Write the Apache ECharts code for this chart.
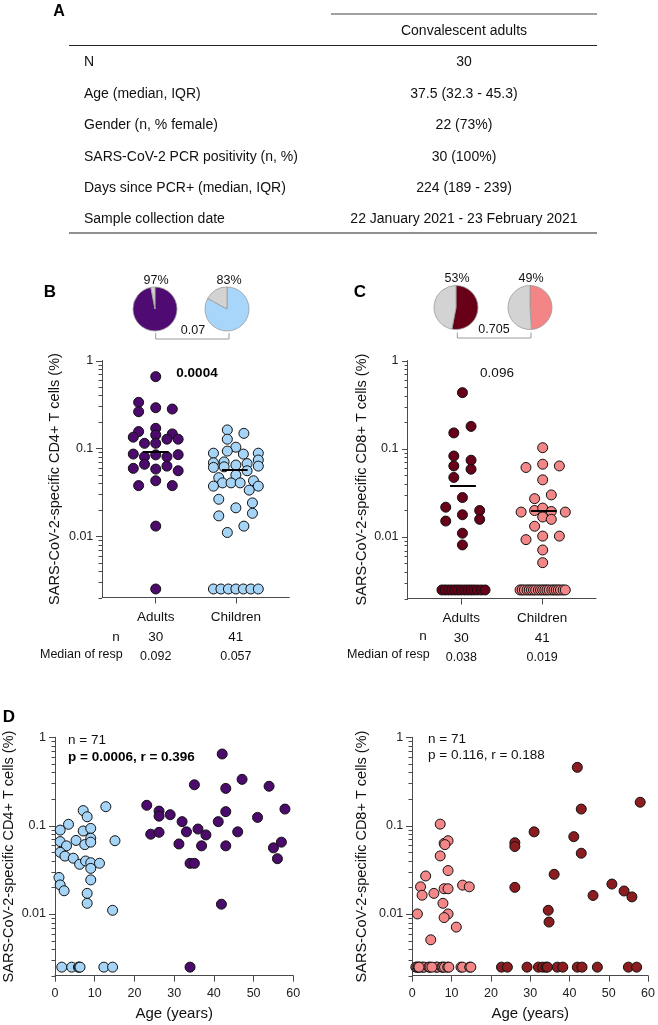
<!DOCTYPE html>
<html>
<head>
<meta charset="utf-8">
<script src="https://cdn.jsdelivr.net/npm/echarts@6/dist/echarts.min.js"></script>
<style>
html, body { margin: 0; padding: 0; background: #fff; }
#chart { width: 658px; height: 1025px; }
</style>
</head>
<body>
<div id="chart"></div>
<script>
const FONT = '"Liberation Sans", Arial, sans-serif';

// ---- panel A table ----
const tableHeader = 'Convalescent adults';
const tableLabels = ['N', 'Age (median, IQR)', 'Gender (n, % female)', 'SARS-CoV-2 PCR positivity (n, %)', 'Days since PCR+ (median, IQR)', 'Sample collection date'];
const tableValues = ['30', '37.5 (32.3 - 45.3)', '22 (73%)', '30 (100%)', '224 (189 - 239)', '22 January 2021 - 23 February 2021'];

// ---- panels B / C ----
const groups = ['Adults', 'Children'];
const groupX = [1, 2.5];
const nCounts = [30, 41];
const cd4Medians = [0.092, 0.057];
const cd8Medians = [0.038, 0.019];
const cd4Responders = [97, 83];
const cd8Responders = [53, 49];
const pieP = ['0.07', '0.705'];
const groupP = ['0.0004', '0.096'];
const lod = 0.003;
const majorTicks = [0.01, 0.1, 1];
const minorTicks = [0.002, 0.003, 0.004, 0.005, 0.006, 0.007, 0.008, 0.009,
  0.02, 0.03, 0.04, 0.05, 0.06, 0.07, 0.08, 0.09,
  0.2, 0.3, 0.4, 0.5, 0.6, 0.7, 0.8, 0.9];

// [x position, value]
const cd4Adults = [[1.0, 0.655], [0.68, 0.334], [0.68, 0.261], [1.0, 0.29], [1.31, 0.28], [1.0, 0.169], [0.68, 0.155],
  [1.0, 0.142], [1.31, 0.146], [0.58, 0.134], [1.21, 0.127], [1.42, 0.127], [0.79, 0.114], [1.0, 0.114],
  [0.58, 0.086], [1.0, 0.0842], [1.42, 0.0847], [0.79, 0.080], [1.21, 0.080], [0.79, 0.0658], [1.21, 0.0627],
  [0.58, 0.0591], [1.0, 0.058], [1.42, 0.0555], [1.0, 0.0427], [0.68, 0.0376], [1.31, 0.0376], [1.0, 0.013],
  [1.0, 0.0025]];
const cd4Children = [[2.34, 0.162], [2.65, 0.148], [2.34, 0.127], [2.50, 0.103], [2.34, 0.093], [2.08, 0.088],
  [2.64, 0.086], [2.92, 0.088], [2.92, 0.0736], [2.08, 0.0684], [2.28, 0.070], [2.50, 0.0645], [2.71, 0.067],
  [2.92, 0.0627], [2.08, 0.0606], [2.28, 0.0615], [2.71, 0.0555], [2.50, 0.0497], [2.18, 0.0463], [2.83, 0.0427],
  [2.25, 0.0404], [2.41, 0.0404], [2.58, 0.0404], [2.08, 0.0371], [2.92, 0.0371], [2.75, 0.0334], [2.18, 0.0263],
  [2.81, 0.0239], [2.50, 0.0210], [2.81, 0.0182], [2.18, 0.0170], [2.65, 0.0130], [2.34, 0.0110],
  [2.08, 0.0025], [2.22, 0.0025], [2.36, 0.0025], [2.50, 0.0025], [2.64, 0.0025], [2.78, 0.0025], [2.92, 0.0025]];
const cd8Adults = [[1.02, 0.432], [0.86, 0.151], [1.18, 0.179], [0.86, 0.0826], [1.18, 0.074], [0.86, 0.0637],
  [1.18, 0.0585], [0.86, 0.0472], [1.02, 0.0279], [0.71, 0.0217], [1.34, 0.0199], [1.02, 0.0178], [0.71, 0.0151],
  [1.34, 0.0158], [1.02, 0.011], [1.02, 0.0081],
  [0.64, 0.0025], [0.70, 0.0025], [0.76, 0.0025], [0.82, 0.0025], [0.88, 0.0025], [0.94, 0.0025], [1.00, 0.0025],
  [1.06, 0.0025], [1.12, 0.0025], [1.18, 0.0025], [1.24, 0.0025], [1.30, 0.0025], [1.37, 0.0025], [1.44, 0.0025]];
const cd8Children = [[2.51, 0.1026], [2.20, 0.0612], [2.51, 0.0667], [2.82, 0.0637], [2.51, 0.0443], [2.67, 0.0299],
  [2.36, 0.0271], [2.11, 0.0191], [2.36, 0.0199], [2.51, 0.0212], [2.67, 0.0194], [2.93, 0.0191], [2.51, 0.0168],
  [2.67, 0.0158], [2.36, 0.0132], [2.20, 0.0093], [2.51, 0.0102], [2.82, 0.0102], [2.51, 0.0071], [2.51, 0.0051],
  [2.09, 0.0025], [2.13, 0.0025], [2.17, 0.0025], [2.22, 0.0025], [2.26, 0.0025], [2.30, 0.0025], [2.34, 0.0025],
  [2.38, 0.0025], [2.43, 0.0025], [2.47, 0.0025], [2.51, 0.0025], [2.55, 0.0025], [2.59, 0.0025], [2.63, 0.0025],
  [2.68, 0.0025], [2.72, 0.0025], [2.76, 0.0025], [2.80, 0.0025], [2.84, 0.0025], [2.89, 0.0025], [2.93, 0.0025]];

// ---- panel D: [age, value] ----
const nTotal = 71;
const corrP = ['0.0006', '0.116'];
const corrR = ['0.396', '0.188'];
const ageCd4Children = [[12.8, 0.164], [7.1, 0.148], [8.1, 0.126], [3.4, 0.1035], [1.3, 0.089], [7.1, 0.087], [9.0, 0.093],
  [9.0, 0.072], [5.3, 0.068], [1.3, 0.066], [15.1, 0.0675], [7.5, 0.061], [9.0, 0.065], [2.9, 0.059], [1.3, 0.0499],
  [2.5, 0.0452], [4.6, 0.0428], [6.2, 0.0365], [7.7, 0.0398], [9.0, 0.038], [9.0, 0.0328], [11.2, 0.0375],
  [1.0, 0.0259], [9.0, 0.0243], [1.3, 0.0213], [2.3, 0.0183], [8.1, 0.0171], [8.1, 0.0132], [14.5, 0.011],
  [1.7, 0.0025], [4.2, 0.0025], [5.9, 0.0025], [6.1, 0.0025], [6.3, 0.0025], [12.3, 0.0025], [14.5, 0.0025]];
const ageCd4Adults = [[42.1, 0.647], [35.1, 0.29], [43.0, 0.264], [47.1, 0.334], [53.9, 0.279], [23.1, 0.17], [26.2, 0.146],
  [26.2, 0.128], [29.0, 0.133], [43.0, 0.144], [57.9, 0.154], [51.0, 0.124], [32.0, 0.111], [41.1, 0.111],
  [24.1, 0.080], [26.2, 0.084], [33.1, 0.085], [36.0, 0.0915], [38.0, 0.0785], [46.0, 0.085], [31.2, 0.062],
  [36.9, 0.059], [43.0, 0.059], [55.0, 0.056], [57.0, 0.065], [56.0, 0.0422], [34.0, 0.0374], [35.1, 0.0374],
  [41.9, 0.0129], [34.0, 0.0025]];
const ageCd8Children = [[7.1, 0.104], [8.1, 0.063], [9.1, 0.0675], [8.3, 0.061], [7.1, 0.0454], [9.1, 0.031], [3.4, 0.0269],
  [12.8, 0.0212], [14.5, 0.0203], [2.1, 0.0203], [8.1, 0.0193], [9.1, 0.0193], [5.5, 0.0171], [2.5, 0.0163],
  [7.8, 0.0132], [1.3, 0.01], [9.1, 0.01], [8.1, 0.0091], [11.2, 0.0071], [4.7, 0.0051],
  [0.9, 0.0025], [1.2, 0.0025], [1.5, 0.0025], [1.9, 0.0025], [2.6, 0.0025], [3.0, 0.0025], [4.2, 0.0025],
  [4.5, 0.0025], [6.1, 0.0025], [6.4, 0.0025], [7.5, 0.0025], [7.8, 0.0025], [8.2, 0.0025], [9.0, 0.0025],
  [9.3, 0.0025], [12.4, 0.0025], [12.8, 0.0025], [14.6, 0.0025], [14.9, 0.0025], [1.7, 0.0025], [5.0, 0.0025]];
const ageCd8Adults = [[42.0, 0.457], [58.0, 0.184], [43.0, 0.154], [31.0, 0.085], [41.1, 0.075], [26.1, 0.064], [26.1, 0.058],
  [43.0, 0.0487], [36.1, 0.0281], [26.1, 0.02], [50.8, 0.0218], [53.9, 0.0182], [55.9, 0.0156], [46.0, 0.0162],
  [34.6, 0.011], [34.8, 0.0081],
  [22.7, 0.0025], [24.2, 0.0025], [29.2, 0.0025], [32.1, 0.0025], [33.2, 0.0025], [34.0, 0.0025], [34.4, 0.0025],
  [36.9, 0.0025], [38.3, 0.0025], [42.0, 0.0025], [43.2, 0.0025], [47.1, 0.0025], [55.0, 0.0025], [57.1, 0.0025]];

const purple = '#4b0a6c', lightBlue = '#a6d4f7', maroon = '#690019', pink = '#f38788', brick = '#8b1c1f';
const grey = '#d3d3d3';
const axisColor = '#4a4a4a';

const chart = echarts.init(document.getElementById('chart'));

// log axis: labels at decades; ticks are added after layout (see below)
function yLog(grid, name, gap) {
  return {
    type: 'log', gridIndex: grid, min: 0.002, max: 1, position: 'left',
    name: name, nameLocation: 'middle', nameGap: gap,
    nameTextStyle: { fontSize: 14.5, color: '#111', fontFamily: FONT },
    axisLine: { show: true, onZero: false, lineStyle: { color: axisColor } },
    axisTick: { show: false },
    axisLabel: { customValues: majorTicks, formatter: v => String(+(+v).toPrecision(4)),
      fontSize: 12.5, color: '#222', margin: 9, fontFamily: FONT },
    splitLine: { show: false }
  };
}

function xGroups(grid, medians) {
  return {
    type: 'value', gridIndex: grid, min: 0, max: 3.5,
    axisLine: { show: true, onZero: false, lineStyle: { color: axisColor } },
    axisTick: { show: true, length: 6, customValues: groupX, lineStyle: { color: axisColor } },
    axisLabel: {
      customValues: groupX, margin: 10, color: '#111', fontFamily: FONT,
      formatter: v => {
        const i = groupX.indexOf(v);
        return '{g|' + groups[i] + '}\n{n|' + nCounts[i] + '}\n{m|' + medians[i] + '}';
      },
      rich: {
        g: { fontSize: 13.5, lineHeight: 20, fontFamily: FONT, color: '#111' },
        n: { fontSize: 13.5, lineHeight: 20, fontFamily: FONT, color: '#111' },
        m: { fontSize: 12.5, lineHeight: 18, fontFamily: FONT, color: '#111' }
      }
    },
    splitLine: { show: false }
  };
}

function xAge(grid) {
  return {
    type: 'value', gridIndex: grid, min: 0, max: 60, interval: 10,
    name: 'Age (years)', nameLocation: 'middle', nameGap: 31,
    nameTextStyle: { fontSize: 15, color: '#111', fontFamily: FONT },
    axisLine: { show: true, onZero: false, lineStyle: { color: axisColor } },
    axisTick: { show: true, length: 6, lineStyle: { color: axisColor } },
    axisLabel: { fontSize: 12.5, color: '#222', margin: 11, fontFamily: FONT },
    splitLine: { show: false }
  };
}

function lodLine() {
  return { silent: true, symbol: 'none', label: { show: false }, emphasis: { disabled: true },
    lineStyle: { color: '#222', type: [4, 3], width: 1 }, data: [{ yAxis: lod }] };
}

function medianLine(gx, med) {
  return { silent: true, symbol: 'none', label: { show: false }, emphasis: { disabled: true },
    lineStyle: { color: '#000', type: 'solid', width: 2 },
    data: [[{ coord: [gx - 0.24, med] }, { coord: [gx + 0.24, med] }]] };
}

function dots(xi, yi, data, color, markLine) {
  const s = {
    type: 'scatter', xAxisIndex: xi, yAxisIndex: yi, data: data, symbolSize: 10, silent: true,
    itemStyle: { color: color, borderColor: '#111', borderWidth: 1, opacity: 1 }
  };
  if (markLine) s.markLine = markLine;
  return s;
}

function pie(cx, cy, pct, color) {
  return {
    type: 'pie', center: [cx, cy], radius: 22, startAngle: 90, clockwise: true, silent: true,
    label: { show: false }, labelLine: { show: false }, emphasis: { disabled: true },
    itemStyle: { borderColor: '#9a9a9a', borderWidth: 0.8 },
    data: [{ value: pct, itemStyle: { color: color } }, { value: 100 - pct, itemStyle: { color: grey } }]
  };
}

function txt(x, y, s, o) {
  o = o || {};
  const al = o.align || 'center';
  return { type: 'text', x: x, y: y, silent: true, z: 10,
    style: { text: s, fontSize: o.size || 13, fontWeight: o.bold ? 'bold' : 'normal', fontFamily: FONT,
      fill: o.color || '#111', align: al, textAlign: al, verticalAlign: 'middle', textVerticalAlign: 'middle' } };
}

function seg(x1, y1, x2, y2, color, w) {
  return { type: 'line', silent: true, z: 10, shape: { x1: x1, y1: y1, x2: x2, y2: y2 },
    style: { stroke: color || '#222', lineWidth: w || 1 } };
}

function bracket(xa, xb, yTop, yBot) {
  return { type: 'polyline', silent: true, shape: { points: [[xa, yTop], [xa, yBot], [xb, yBot], [xb, yTop]] },
    style: { stroke: '#9a9a9a', fill: null, lineWidth: 1 } };
}

// table rows
const tableRowY = [62.5, 94, 125.5, 157, 188, 219.5];
const graphics = [
  txt(59, 12, 'A', { size: 16, bold: true, color: '#000' }),
  seg(331, 14, 597, 14, '#444', 1.2),
  txt(464, 31, tableHeader, { size: 14 }),
  seg(69, 45.5, 597, 45.5, '#222', 1.2),
  seg(69, 233, 597, 233, '#222', 1.2)
];
tableLabels.forEach((lab, i) => {
  graphics.push(txt(84, tableRowY[i], lab, { size: 14, align: 'left' }));
  graphics.push(txt(464, tableRowY[i], tableValues[i], { size: 14 }));
});

// panel letters and annotations
graphics.push(
  txt(50, 292, 'B', { size: 17, bold: true, color: '#000' }),
  txt(360, 292, 'C', { size: 17, bold: true, color: '#000' }),
  txt(9, 717, 'D', { size: 17, bold: true, color: '#000' }),
  txt(156, 281, cd4Responders[0] + '%', { size: 12.5 }),
  txt(229, 281, cd4Responders[1] + '%', { size: 12.5 }),
  txt(457, 279, cd8Responders[0] + '%', { size: 12.5 }),
  txt(531, 279, cd8Responders[1] + '%', { size: 12.5 }),
  bracket(155.7, 229, 333, 339),
  bracket(457.3, 531, 332.5, 338),
  txt(193, 331, pieP[0], { size: 12.5 }),
  txt(494, 330, pieP[1], { size: 12.5 }),
  txt(197, 373, groupP[0], { size: 13.5, bold: true, color: '#000' }),
  txt(497, 373, groupP[1], { size: 13.5 }),
  txt(116, 637, 'n', { size: 13.5 }),
  txt(423, 636, 'n', { size: 13.5 }),
  txt(40, 655, 'Median of resp', { size: 12.5, align: 'left' }),
  txt(347, 655, 'Median of resp', { size: 12.5, align: 'left' }),
  txt(68, 740, 'n = ' + nTotal, { size: 13.5, align: 'left' }),
  txt(68, 757, 'p = ' + corrP[0] + ', r = ' + corrR[0], { size: 13.5, bold: true, align: 'left', color: '#000' }),
  txt(428, 739, 'n = ' + nTotal, { size: 13.5, align: 'left' }),
  txt(428, 755.5, 'p = ' + corrP[1] + ', r = ' + corrR[1], { size: 13.5, align: 'left' })
);

const option = {
  animation: false,
  backgroundColor: '#fff',
  textStyle: { fontFamily: FONT },
  grid: [
    { left: 102.3, top: 360.5, width: 187, height: 237 },
    { left: 407.5, top: 360.5, width: 188.5, height: 238 },
    { left: 55, top: 737.3, width: 238.3, height: 238.4 },
    { left: 412.3, top: 737.3, width: 238.3, height: 238.4 }
  ],
  xAxis: [xGroups(0, cd4Medians), xGroups(1, cd8Medians), xAge(2), xAge(3)],
  yAxis: [
    yLog(0, 'SARS-CoV-2-specific CD4+ T cells (%)', 40),
    yLog(1, 'SARS-CoV-2-specific CD8+ T cells (%)', 38),
    yLog(2, 'SARS-CoV-2-specific CD4+ T cells (%)', 39),
    yLog(3, 'SARS-CoV-2-specific CD8+ T cells (%)', 43)
  ],
  series: [
    dots(0, 0, cd4Adults, purple, lodLine()),
    dots(0, 0, cd4Children, lightBlue),
    Object.assign(dots(0, 0, [], purple), { markLine: medianLine(groupX[0], cd4Medians[0]) }),
    Object.assign(dots(0, 0, [], purple), { markLine: medianLine(groupX[1] - 0.02, cd4Medians[1]) }),
    dots(1, 1, cd8Adults, maroon, lodLine()),
    dots(1, 1, cd8Children, pink),
    Object.assign(dots(1, 1, [], maroon), { markLine: medianLine(groupX[0] + 0.03, cd8Medians[0]) }),
    Object.assign(dots(1, 1, [], maroon), { markLine: medianLine(groupX[1] + 0.03, cd8Medians[1] * 1.03) }),
    dots(2, 2, ageCd4Children, lightBlue, lodLine()),
    dots(2, 2, ageCd4Adults, purple),
    dots(3, 3, ageCd8Children, pink, lodLine()),
    dots(3, 3, ageCd8Adults, brick),
    pie(155, 309, cd4Responders[0], '#4f0b72'),
    pie(227, 309, cd4Responders[1], '#a8d5fa'),
    pie(456, 307.5, cd8Responders[0], '#680018'),
    pie(530, 307.5, cd8Responders[1], '#f48586')
  ],
  graphic: { elements: graphics }
};

chart.setOption(option);

// log-scale ticks (long at decades, short in between), placed with the axes' own scale
const tickMarks = [];
for (let i = 0; i < 4; i++) {
  const x0 = Math.round(chart.convertToPixel({ xAxisIndex: i }, 0));
  [[majorTicks, 6], [minorTicks, 3.5]].forEach(([vals, len]) => {
    vals.forEach(v => {
      const y = Math.round(chart.convertToPixel({ yAxisIndex: i }, v)) + 0.5;
      tickMarks.push(seg(x0 - len, y, x0, y, axisColor, 1));
    });
  });
}
chart.setOption({ graphic: { elements: graphics.concat(tickMarks) } });
</script>
</body>
</html>
